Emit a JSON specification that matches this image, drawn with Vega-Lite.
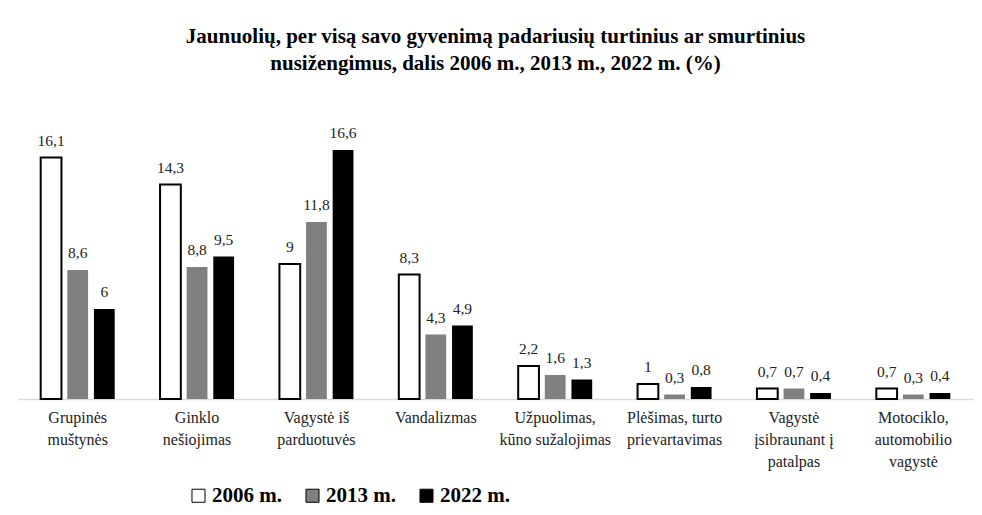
{
  "$schema": "https://vega.github.io/schema/vega-lite/v6.json",
  "width": 955,
  "height": 270,
  "autosize": {"type": "none"},
  "padding": {"left": 18, "top": 129, "right": 9, "bottom": 116},
  "background": "white",
  "title": {
    "text": ["Jaunuolių, per visą savo gyvenimą padariusių turtinius ar smurtinius", "nusižengimus, dalis 2006 m., 2013 m., 2022 m. (%)"],
    "font": "Liberation Serif",
    "fontSize": 21,
    "fontWeight": "bold",
    "color": "#000000",
    "lineHeight": 27,
    "anchor": "middle",
    "offset": 52
  },
  "data": {
    "values": [
      {"cat": "Grupinės|muštynės", "year": "2006 m.", "v": 16.1},
      {"cat": "Grupinės|muštynės", "year": "2013 m.", "v": 8.6},
      {"cat": "Grupinės|muštynės", "year": "2022 m.", "v": 6},
      {"cat": "Ginklo|nešiojimas", "year": "2006 m.", "v": 14.3},
      {"cat": "Ginklo|nešiojimas", "year": "2013 m.", "v": 8.8},
      {"cat": "Ginklo|nešiojimas", "year": "2022 m.", "v": 9.5},
      {"cat": "Vagystė iš|parduotuvės", "year": "2006 m.", "v": 9},
      {"cat": "Vagystė iš|parduotuvės", "year": "2013 m.", "v": 11.8},
      {"cat": "Vagystė iš|parduotuvės", "year": "2022 m.", "v": 16.6},
      {"cat": "Vandalizmas", "year": "2006 m.", "v": 8.3},
      {"cat": "Vandalizmas", "year": "2013 m.", "v": 4.3},
      {"cat": "Vandalizmas", "year": "2022 m.", "v": 4.9},
      {"cat": "Užpuolimas,|kūno sužalojimas", "year": "2006 m.", "v": 2.2},
      {"cat": "Užpuolimas,|kūno sužalojimas", "year": "2013 m.", "v": 1.6},
      {"cat": "Užpuolimas,|kūno sužalojimas", "year": "2022 m.", "v": 1.3},
      {"cat": "Plėšimas, turto|prievartavimas", "year": "2006 m.", "v": 1},
      {"cat": "Plėšimas, turto|prievartavimas", "year": "2013 m.", "v": 0.3},
      {"cat": "Plėšimas, turto|prievartavimas", "year": "2022 m.", "v": 0.8},
      {"cat": "Vagystė|įsibraunant į|patalpas", "year": "2006 m.", "v": 0.7},
      {"cat": "Vagystė|įsibraunant į|patalpas", "year": "2013 m.", "v": 0.7},
      {"cat": "Vagystė|įsibraunant į|patalpas", "year": "2022 m.", "v": 0.4},
      {"cat": "Motociklo,|automobilio|vagystė", "year": "2006 m.", "v": 0.7},
      {"cat": "Motociklo,|automobilio|vagystė", "year": "2013 m.", "v": 0.3},
      {"cat": "Motociklo,|automobilio|vagystė", "year": "2022 m.", "v": 0.4}
    ]
  },
  "transform": [
    {"calculate": "replace(format(datum.v, '.1~f'), '.', ',')", "as": "lbl"}
  ],
  "encoding": {
    "x": {
      "field": "cat",
      "type": "nominal",
      "sort": null,
      "title": null,
      "scale": {"paddingInner": 0.38, "paddingOuter": 0.19},
      "axis": {
        "labelExpr": "split(datum.label, '|')",
        "labelAngle": 0,
        "labelFont": "Liberation Serif",
        "labelFontSize": 16,
        "labelColor": "#222222",
        "labelLineHeight": 22,
        "labelPadding": 10,
        "labelBaseline": "top",
        "ticks": false,
        "domainColor": "#d9d9d9",
        "domainWidth": 1.5
      }
    },
    "xOffset": {"field": "year", "type": "nominal", "scale": {"paddingInner": 0.22}},
    "y": {
      "field": "v",
      "type": "quantitative",
      "scale": {"domain": [0, 18], "nice": false},
      "axis": null
    }
  },
  "layer": [
    {
      "mark": {"type": "bar", "stroke": "#000000", "strokeWidth": 2},
      "encoding": {
        "fill": {
          "field": "year",
          "type": "nominal",
          "scale": {"domain": ["2006 m.", "2013 m.", "2022 m."], "range": ["#ffffff", "#808080", "#000000"]},
          "legend": {
            "orient": "none",
            "legendX": 170,
            "legendY": 356,
            "direction": "horizontal",
            "title": null,
            "symbolType": "square",
            "symbolSize": 170,
            "symbolStrokeColor": "#000000",
            "symbolStrokeWidth": 1,
            "labelFont": "Liberation Serif",
            "labelFontSize": 21,
            "labelFontWeight": "bold",
            "labelColor": "#000000",
            "columnPadding": 20,
            "labelOffset": 3
          }
        },
        "strokeOpacity": {
          "condition": {"test": "datum.year === '2006 m.'", "value": 1},
          "value": 0
        }
      }
    },
    {
      "mark": {"type": "text", "dy": -9, "font": "Liberation Serif", "fontSize": 15.5, "color": "#222222", "baseline": "bottom"},
      "encoding": {"text": {"field": "lbl"}}
    }
  ],
  "config": {"view": {"stroke": null}, "font": "Liberation Serif"}
}
